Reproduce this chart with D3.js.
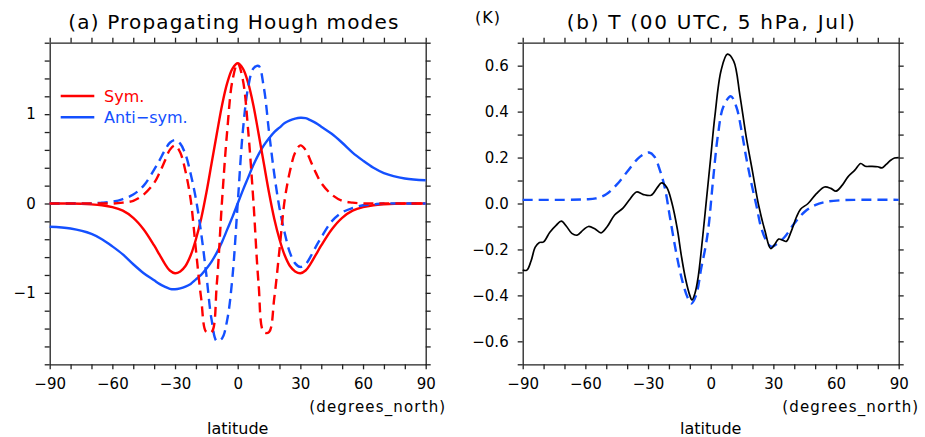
<!DOCTYPE html>
<html>
<head>
<meta charset="utf-8">
<script src="https://cdn.jsdelivr.net/npm/d3@7"></script>
<style>
  body { margin: 0; background: #fff; }
  text { font-family: "DejaVu Sans", sans-serif; }
</style>
</head>
<body>
<div id="chart"></div>
<script>
// ---- data ----
// (a) Hough modes, latitude grid
var latHough = [-90, -80, -70, -65, -60, -55, -50, -45, -40, -37.5, -35, -32.5, -30, -27.5, -25, -22.5,
  -20, -17.5, -15, -12.5, -10, -7.5, -5, -2.5, 0, 2.5, 5, 7.5, 10, 12.5, 15, 17.5, 20, 22.5, 25, 27.5,
  30, 32.5, 35, 37.5, 40, 45, 50, 55, 60, 65, 70, 80, 90];
var symSolid = [0, 0, -0.01, -0.02, -0.04, -0.08, -0.16, -0.29, -0.47, -0.57, -0.67, -0.75, -0.78, -0.76, -0.70, -0.58,
  -0.40, -0.17, 0.12, 0.45, 0.78, 1.10, 1.35, 1.51, 1.57, 1.51, 1.35, 1.10, 0.78, 0.45, 0.12, -0.17, -0.40, -0.58, -0.70, -0.76,
  -0.78, -0.75, -0.67, -0.57, -0.47, -0.29, -0.16, -0.08, -0.04, -0.02, -0.01, 0, 0];
var symDashed = [0, 0, 0, 0, 0, 0.01, 0.03, 0.10, 0.23, 0.34, 0.47, 0.60, 0.65, 0.57, 0.36, 0.04,
  -0.52, -1.06, -1.44, -1.44, -0.90, 0.03, 0.82, 1.38, 1.57, 1.38, 0.82, 0.03, -0.90, -1.44, -1.44, -1.06, -0.52, 0.04, 0.36, 0.57,
  0.65, 0.60, 0.47, 0.34, 0.23, 0.10, 0.03, 0.01, 0, 0, 0, 0, 0];
var antiSolid = [-0.26, -0.28, -0.34, -0.40, -0.48, -0.57, -0.68, -0.78, -0.86, -0.90, -0.93, -0.955, -0.96, -0.95, -0.93, -0.90,
  -0.85, -0.80, -0.73, -0.65, -0.55, -0.43, -0.29, -0.15, 0, 0.15, 0.29, 0.43, 0.55, 0.65, 0.73, 0.80, 0.85, 0.90, 0.93, 0.95,
  0.96, 0.955, 0.93, 0.90, 0.86, 0.78, 0.68, 0.57, 0.48, 0.40, 0.34, 0.28, 0.26];
var antiDashed = [0, 0, 0, 0.01, 0.02, 0.05, 0.10, 0.20, 0.38, 0.48, 0.59, 0.68, 0.71, 0.67, 0.55, 0.33,
  0.05, -0.33, -0.80, -1.30, -1.54, -1.51, -1.30, -0.82, 0, 0.82, 1.30, 1.51, 1.54, 1.30, 0.80, 0.33, -0.05, -0.33, -0.55, -0.67,
  -0.71, -0.68, -0.59, -0.48, -0.38, -0.20, -0.10, -0.05, -0.02, -0.01, 0, 0, 0];

// (b) temperature, observed (black) and Hough fit (blue dashed)
var latObs = [-90, -88, -86, -84, -82, -80, -77, -74, -71.5, -69, -66.5, -64, -61, -58.5, -55.5, -52.5, -49.5, -46,
  -42, -39, -35.5, -32.5, -28.5, -25.5, -23.5, -21, -18.5, -16, -14, -12, -10, -9, -7.5, -6, -4, -2,
  0, 2, 5, 8, 11, 14, 17, 20, 23, 26, 28.7, 30.5, 32.5, 34.5, 36.2, 38.6, 41, 43,
  46.6, 50.6, 54.5, 57.5, 60, 63, 65.7, 69, 71.8, 74, 77, 80, 82, 84, 86, 88, 90];
var tObs = [-0.29, -0.29, -0.25, -0.19, -0.17, -0.167, -0.125, -0.095, -0.077, -0.10, -0.13, -0.138, -0.115, -0.10, -0.11, -0.128, -0.10, -0.05,
  -0.02, 0.015, 0.05, 0.04, 0.036, 0.07, 0.09, 0.07, 0.00, -0.11, -0.23, -0.33, -0.40, -0.42, -0.39, -0.32, -0.16, 0.02,
  0.20, 0.38, 0.58, 0.65, 0.62, 0.47, 0.29, 0.14, -0.01, -0.12, -0.196, -0.18, -0.155, -0.16, -0.165, -0.12, -0.06, -0.025,
  0.00, 0.043, 0.072, 0.066, 0.054, 0.08, 0.116, 0.145, 0.174, 0.162, 0.162, 0.16, 0.155, 0.17, 0.187, 0.198, 0.20];
var latFit = [-90, -70, -60, -55, -50, -45, -40, -35, -32, -29.5, -27, -24.5, -22, -19.5, -16.5, -13.5, -11, -9.2,
  -7, -4.5, -2.5, -1, 1, 3.5, 6, 9.6, 12.3, 14.7, 17, 19.5, 22, 24, 26.5, 29, 31.5, 35.5, 40, 45, 50, 55, 62, 70, 90];
var tFit = [0.016, 0.016, 0.018, 0.022, 0.04, 0.082, 0.138, 0.194, 0.215, 0.222, 0.205, 0.15, 0.07, -0.06, -0.215, -0.34, -0.41, -0.435,
  -0.40, -0.28, -0.19, -0.10, 0.09, 0.30, 0.42, 0.467, 0.42, 0.32, 0.20, 0.087, -0.014, -0.10, -0.16, -0.188, -0.177, -0.145,
  -0.087, -0.036, -0.007, 0.007, 0.014, 0.016, 0.016];

var xTicks = d3.range(-90, 91, 10);

var red = "#ff0000";
var blue = "#1450ff";

var svg = d3.select("#chart").append("svg")
  .attr("width", 925)
  .attr("height", 437);
svg.append("rect").attr("width", 925).attr("height", 437).attr("fill", "#fff");

// build one panel: box, axes and labels
function panel(opt) {
  var x = d3.scaleLinear().domain([-90, 90]).range([opt.left, opt.right]);
  var y = d3.scaleLinear().domain(opt.yDomain).range([364.3, 42.7]);

  var axes = [
    { a: d3.axisBottom(x).tickValues(xTicks).tickFormat(d => d % 30 === 0 ? d3.format("d")(d) : ""), t: `translate(0,${y.range()[0]})` },
    { a: d3.axisTop(x).tickValues(xTicks).tickFormat(""), t: `translate(0,${y.range()[1]})` },
    { a: d3.axisLeft(y).tickValues(opt.yTicks).tickFormat(opt.yFormat), t: `translate(${opt.left},0)` },
    { a: d3.axisRight(y).tickValues(opt.yTicks).tickFormat(""), t: `translate(${opt.right},0)` }
  ];
  axes.forEach(function(ax) {
    var g = svg.append("g")
      .attr("transform", ax.t)
      .call(ax.a.tickSize(5).tickSizeOuter(0).tickPadding(9));
    g.attr("font-family", null).attr("font-size", null);
    g.selectAll("path, line").attr("stroke", "#222").attr("stroke-width", 1.3);
    g.selectAll("text").attr("font-size", 15).attr("fill", "#000");
  });

  svg.append("text")
    .attr("x", opt.titleX).attr("y", 28.5)
    .attr("text-anchor", "middle")
    .attr("font-size", 20)
    .attr("textLength", opt.titleW).attr("lengthAdjust", "spacing")
    .text(opt.title);

  svg.append("text")
    .attr("x", opt.right + 19.5).attr("y", 412)
    .attr("text-anchor", "end")
    .attr("font-size", 15)
    .attr("textLength", 136).attr("lengthAdjust", "spacing")
    .text("(degrees_north)");

  svg.append("text")
    .attr("x", (opt.left + opt.right) / 2).attr("y", 434)
    .attr("text-anchor", "middle")
    .attr("font-size", 16)
    .text("latitude");

  return { x: x, y: y };
}

function drawLine(p, lats, vals, color, width, dash) {
  var line = d3.line()
    .x(d => p.x(d[0]))
    .y(d => p.y(d[1]))
    .curve(d3.curveCatmullRom.alpha(0.5));
  svg.append("path")
    .datum(lats.map((l, i) => [l, vals[i]]))
    .attr("d", line)
    .attr("fill", "none")
    .attr("stroke", color)
    .attr("stroke-width", width)
    .attr("stroke-dasharray", dash || null);
}

// ---- panel (a) ----
var pa = panel({
  left: 49.7, right: 425.7,
  yDomain: [-1.8, 1.8],
  yTicks: d3.range(-9, 10).map(i => i / 5),
  yFormat: d => Math.abs(d - Math.round(d)) < 1e-6 ? d3.format("d")(Math.round(d)) : "",
  title: "(a) Propagating Hough modes", titleX: 233.3, titleW: 330
});

drawLine(pa, latHough, antiSolid, blue, 2.4);
drawLine(pa, latHough, symSolid, red, 2.4);
drawLine(pa, latHough, antiDashed, blue, 2.4, "10,6");
drawLine(pa, latHough, symDashed, red, 2.4, "10,6");

// legend
var legend = [{ name: "Sym.", color: red, y: 96 }, { name: "Anti\u2212sym.", color: blue, y: 117.3 }];
legend.forEach(function(d) {
  svg.append("line")
    .attr("x1", 60.7).attr("x2", 94.3)
    .attr("y1", d.y).attr("y2", d.y)
    .attr("stroke", d.color).attr("stroke-width", 2.4);
  svg.append("text")
    .attr("x", 104).attr("y", d.y + 5.8)
    .attr("font-size", 16)
    .attr("fill", d.color)
    .text(d.name);
});

// ---- panel (b) ----
var pb = panel({
  left: 522.7, right: 898.7,
  yDomain: [-0.7, 0.7],
  yTicks: d3.range(-7, 8).map(i => i / 10),
  yFormat: d => (Math.round(d * 10) % 2 === 0 && Math.abs(d) < 0.65) ? d3.format(".1f")(d) : "",
  title: "(b) T (00 UTC, 5 hPa, Jul)", titleX: 710.8, titleW: 288
});

svg.append("text")
  .attr("x", 475).attr("y", 23)
  .attr("font-size", 16)
  .attr("letter-spacing", 1)
  .text("(K)");

drawLine(pb, latFit, tFit, blue, 2.4, "10,6");
drawLine(pb, latObs, tObs, "#000", 1.7);
</script>
</body>
</html>
